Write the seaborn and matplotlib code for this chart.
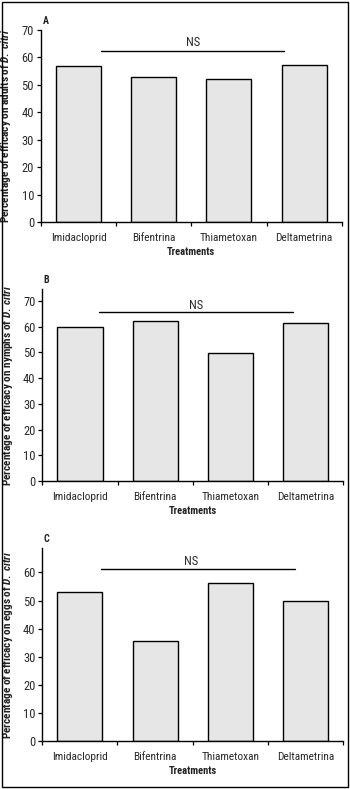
import matplotlib
matplotlib.use("Agg")
import matplotlib.pyplot as plt
from matplotlib import font_manager
from matplotlib.patches import Rectangle
import seaborn as sns
import pandas as pd

treatments = ["Imidacloprid", "Bifentrina", "Thiametoxan", "Deltametrina"]
adults = [57.0, 53.0, 52.0, 57.3]
nymphs = [60.0, 62.3, 49.7, 61.3]
eggs = [53.0, 35.5, 56.2, 50.0]
panel_letters = ["A", "B", "C"]
stages = ["adults", "nymphs", "eggs"]
yticks_list = [list(range(0, 71, 10)), list(range(0, 71, 10)), list(range(0, 61, 10))]

sns.set_theme(style="ticks")

# pick an Arial-Narrow-like family that has real bold and bold italic faces
info = {}
for f in font_manager.fontManager.ttflist:
    info.setdefault(f.name, set()).add((f.weight if isinstance(f.weight, int) else 400, f.style))
prefs = ["Liberation Sans Narrow", "Roboto Condensed", "PT Sans Narrow", "Fira Sans Condensed",
         "IBM Plex Sans Condensed", "Open Sans Condensed", "Sofia Sans Condensed",
         "Encode Sans Condensed", "Barlow Semi Condensed", "Barlow Condensed"]
fam = "DejaVu Sans"
for p in prefs:
    faces = info.get(p, set())
    if (400, "normal") in faces and any(w >= 700 and s == "normal" for w, s in faces) \
            and any(w >= 700 and s == "italic" for w, s in faces):
        fam = p
        break

plt.rcParams["font.family"] = [fam, "DejaVu Sans"]
plt.rcParams["mathtext.fontset"] = "custom"
plt.rcParams["mathtext.it"] = f"{fam}:italic:bold"
plt.rcParams["mathtext.rm"] = f"{fam}:bold"
plt.rcParams["mathtext.bf"] = f"{fam}:bold"
plt.rcParams["mathtext.default"] = "it"

W, H = 350, 789
fig = plt.figure(figsize=(W / 100, H / 100), dpi=100)

boxes = [(41, 30, 341.7, 222), (42.3, 289.3, 343.3, 481), (42.3, 548.3, 343, 741)]
ylims = [70, 74.5, 68.6]
ns_lines = [(0.30, 2.73, 62.3), (0.25, 2.83, 65.5), (0.28, 2.86, 61.2)]
ns_text = [(1.53, 65.4), (1.54, 68.2), (1.48, 63.8)]

values = [adults, nymphs, eggs]
for i in range(3):
    l, t, r, b = boxes[i]
    ax = fig.add_axes([l / W, (H - b) / H, (r - l) / W, (b - t) / H])
    df = pd.DataFrame({"Treatment": treatments, "Efficacy": values[i]})
    sns.barplot(data=df, x="Treatment", y="Efficacy", color="#e6e6e6",
                saturation=1, edgecolor="black", linewidth=1.0, width=0.6, ax=ax)
    ax.set_xlim(-0.5, 3.5)
    ax.set_ylim(0, ylims[i])
    ax.set_yticks(yticks_list[i])
    ax.set_xticks([-0.5, 0.5, 1.5, 2.5, 3.5], minor=True)
    ax.tick_params(axis="x", which="major", length=0, pad=8, labelsize=8.2, colors="#2a2a2a")
    ax.tick_params(axis="x", which="minor", length=3, width=0.9, direction="out", color="black")
    ax.tick_params(axis="y", length=3, width=0.9, direction="out", labelsize=9,
                   pad=2, labelcolor="#2a2a2a", color="black")
    for s in ["top", "right"]:
        ax.spines[s].set_visible(False)
    for s in ["left", "bottom"]:
        ax.spines[s].set_linewidth(1.0)
        ax.spines[s].set_color("black")
    ax.set_xlabel("Treatments", fontsize=7.6, fontweight="bold", labelpad=3, color="#222222")
    ax.set_ylabel(f"Percentage of efficacy on {stages[i]} of " + r"$D.\ citri$",
                  fontsize=8.1, fontweight="bold", color="#222222")
    ax.yaxis.set_label_coords(-0.092, 0.5)
    x0, x1, yl = ns_lines[i]
    ax.plot([x0, x1], [yl, yl], color="black", lw=1.0)
    tx, ty = ns_text[i]
    ax.text(tx, ty, "NS", ha="center", va="center", fontsize=9, color="#2a2a2a")
    ax.text(0.005, 1.02, panel_letters[i], transform=ax.transAxes, ha="left", va="bottom",
            fontsize=7.2, fontweight="bold", color="#222222")

fig.patches.append(Rectangle((2 / W, 2 / H), (W - 4) / W, (H - 4) / H, transform=fig.transFigure,
                             fill=False, edgecolor="black", linewidth=1.0))
fig.savefig("out.png", dpi=100, facecolor="white")
